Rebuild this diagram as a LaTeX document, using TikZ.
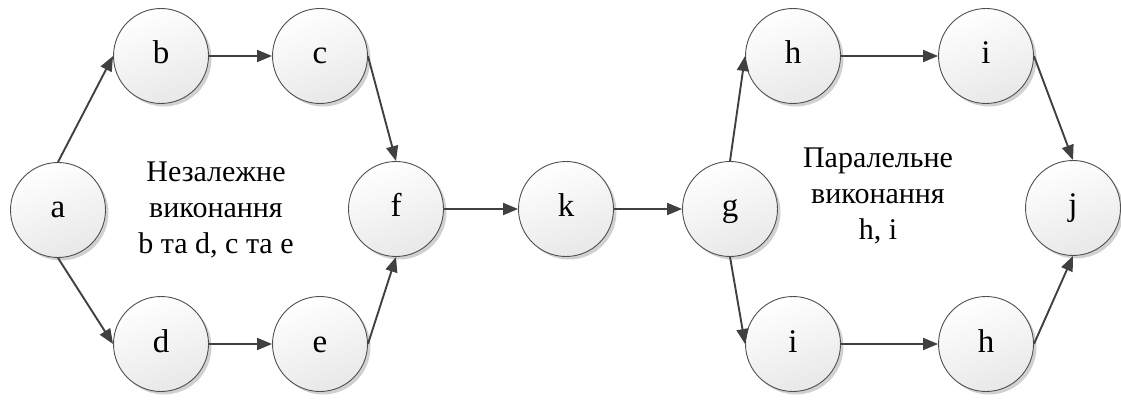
\documentclass[tikz,border=0pt]{standalone}
\usepackage{fontspec}
\setmainfont{Liberation Serif}
\usetikzlibrary{arrows.meta,shadows}
\definecolor{edge}{HTML}{404040}
\definecolor{rim}{HTML}{505050}
\tikzset{
  proc/.style={circle, draw=rim, line width=0.9pt, minimum size=95pt, inner sep=0pt,
    text height=23pt, text depth=7pt,
    top color=white, bottom color=black!9, shading angle=20,
    drop shadow={shadow xshift=3pt, shadow yshift=-3pt, opacity=0.18, fill=black},
    font=\fontsize{33}{33}\selectfont},
  arr/.style={draw=edge, line width=1.9pt, -{Triangle[length=15pt,width=12pt]}},
  lbl/.style={align=center, font=\fontsize{30}{36}\selectfont}
}
\begin{document}
\begin{tikzpicture}[x=1pt,y=-1pt]
\useasboundingbox (0,0) rectangle (1121,403);
\node[proc] (a) at (58,210) {a};
\node[proc] (b) at (161,56) {b};
\node[proc] (c) at (320,56) {c};
\node[proc] (d) at (161,344) {d};
\node[proc] (e) at (320,344) {e};
\node[proc] (f) at (396,209) {f};
\node[proc] (k) at (566,209) {k};
\node[proc] (g) at (730,209) {g};
\node[proc] (h1) at (793,56) {h};
\node[proc] (i1) at (986,56) {i};
\node[proc] (j) at (1073,208) {j};
\node[proc] (i2) at (793,344) {i};
\node[proc] (h2) at (986,344) {h};
\node[lbl] (t1) at (216,210) {Незалежне\\виконання\\b та d, c та e};
\node[lbl] (t2) at (878,196) {Паралельне\\виконання\\h, i};
\draw[arr] (a.north) -- (b.west);
\draw[arr] (b) -- (c);
\draw[arr] (c.east) -- (f.north);
\draw[arr] (a.south) -- (d.west);
\draw[arr] (d) -- (e);
\draw[arr] (e.east) -- (f.south);
\draw[arr] (f) -- (k);
\draw[arr] (k) -- (g);
\draw[arr] (g.north) -- (h1.west);
\draw[arr] (h1) -- (i1);
\draw[arr] (i1.east) -- (j.north);
\draw[arr] (g.south) -- (i2.west);
\draw[arr] (i2) -- (h2);
\draw[arr] (h2.east) -- (j.south);
\end{tikzpicture}
\end{document}
